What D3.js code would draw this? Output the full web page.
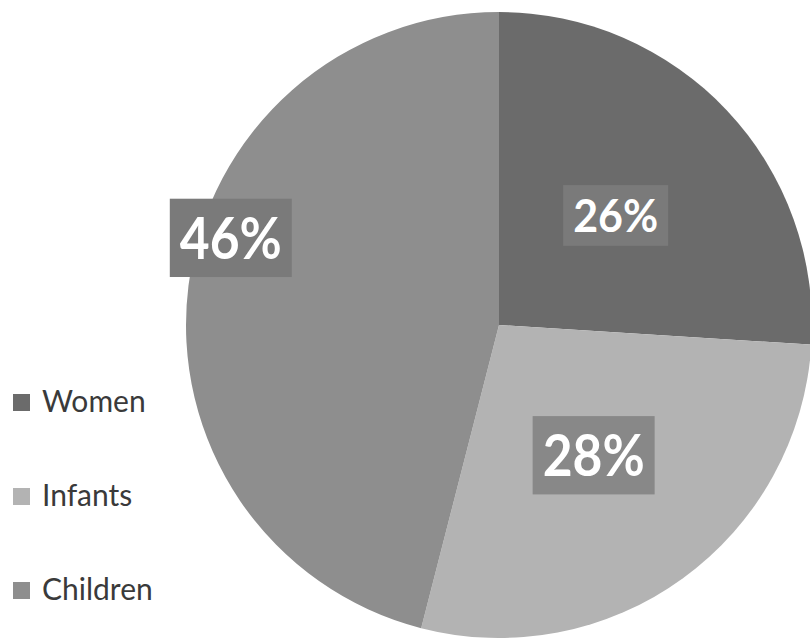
<html>
<head>
<meta charset="utf-8">
<style>
  body { margin: 0; background: #fff; }
  svg { display: block; }
</style>
</head>
<body>
<script src="https://d3js.org/d3.v7.min.js"></script>
<script>
    // data
    var categories = ["Women", "Infants", "Children"];
    var shares = [26, 28, 46];
    var labels = ["26%", "28%", "46%"];

    var width = 810, height = 638;
    var cx = 499, cy = 325, radius = 313;

    var sliceColor = d3.scaleOrdinal().domain(categories).range(["#6b6b6b", "#b3b3b3", "#8e8e8e"]);
    var boxColor = d3.scaleOrdinal().domain(categories).range(["#7a7a7a", "#888888", "#7a7a7a"]);

    var svg = d3.select("body").append("svg").attr("width", width).attr("height", height);

    var pie = d3.pie().sort(null).value(function(d){ return d; });
    var arcs = pie(shares);

    var arcPath = d3.arc().innerRadius(0).outerRadius(radius);

    var g = svg.append("g").attr("transform", "translate(" + cx + "," + cy + ")");

    g.selectAll("path")
        .data(arcs)
        .enter()
        .append("path")
        .attr("d", arcPath)
        .attr("fill", function(d, i){ return sliceColor(categories[i]); });

    // label placement (excel best fit style)
    var labelR = [160, 161, 282];
    var fontSz = [45, 58, 58];
    var txtW = [85, 102, 102];

    var lab = g.selectAll("g.lab")
        .data(arcs)
        .enter()
        .append("g")
        .attr("class", "lab")
        .attr("transform", function(d, i){
            var a = (d.startAngle + d.endAngle) / 2;
            if (i == 2) a = 288 * Math.PI / 180;
            return "translate(" + (labelR[i] * Math.sin(a)) + "," + (-labelR[i] * Math.cos(a)) + ")";
        });

    lab.append("rect")
        .attr("x", function(d, i){ return -(txtW[i] + 20) / 2; })
        .attr("y", function(d, i){ return -fontSz[i] * 1.35 / 2; })
        .attr("width", function(d, i){ return txtW[i] + 20; })
        .attr("height", function(d, i){ return fontSz[i] * 1.35; })
        .attr("fill", function(d, i){ return boxColor(categories[i]); });

    lab.append("text")
        .attr("text-anchor", "middle")
        .attr("y", function(d, i){ return fontSz[i] * 0.36; })
        .attr("font-family", "Lato, 'Open Sans', sans-serif")
        .attr("font-weight", "bold")
        .attr("font-size", function(d, i){ return fontSz[i] + "px"; })
        .attr("textLength", function(d, i){ return txtW[i]; })
        .attr("lengthAdjust", "spacingAndGlyphs")
        .attr("fill", "white")
        .text(function(d, i){ return labels[i]; });

    // legend
    var legY = d3.scalePoint().domain(categories).range([412, 600]);

    var leg = svg.selectAll("g.leg")
        .data(categories)
        .enter()
        .append("g")
        .attr("class", "leg")
        .attr("transform", function(d){ return "translate(0," + legY(d) + ")"; });

    leg.append("rect")
        .attr("x", 13).attr("y", -18)
        .attr("width", 17).attr("height", 17)
        .attr("fill", function(d){ return sliceColor(d); });

    leg.append("text")
        .attr("x", 42)
        .attr("font-family", "Lato, 'Open Sans', sans-serif")
        .attr("font-size", "30px")
        .attr("fill", "#3a3a3a")
        .text(function(d){ return d; });
</script>
</body>
</html>
